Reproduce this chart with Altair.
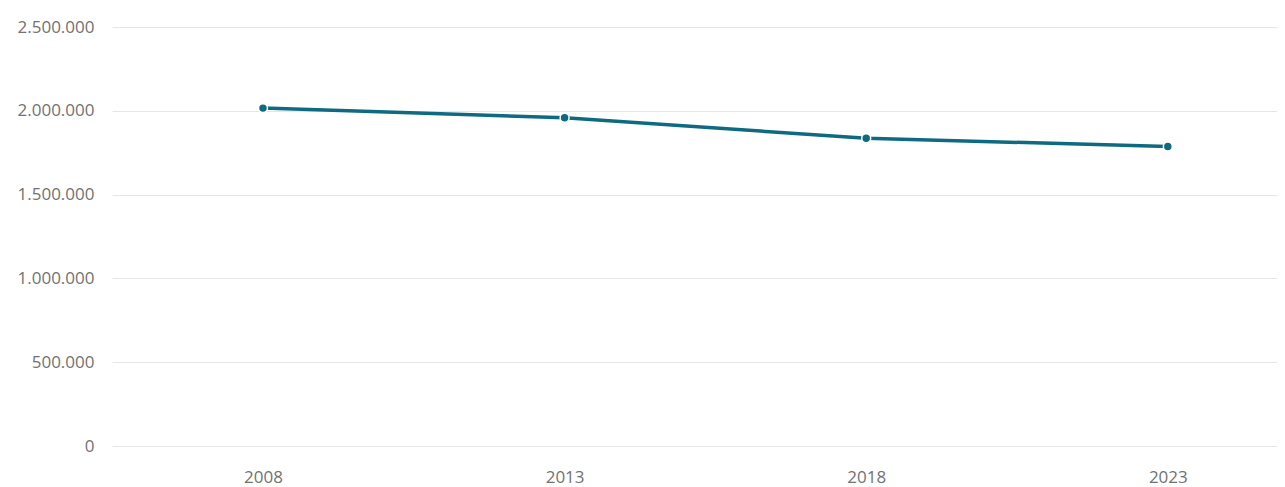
import altair as alt
import pandas as pd

years = [2008, 2013, 2018, 2023]
values = [2016000, 1958000, 1836000, 1787000]
y_ticks = [0, 500000, 1000000, 1500000, 2000000, 2500000]

df = pd.DataFrame({"year": years, "value": values})

line_color = "#0e6a80"

x_enc = alt.X(
    "year:Q",
    scale=alt.Scale(domain=[2005.497, 2024.81], nice=False, zero=False),
    axis=alt.Axis(values=years, format="d", title=None, grid=False, domain=False,
                  ticks=False, labelPadding=23, labelFontSize=17, labelColor="#727272",
                  labelFont="Open Sans"),
)
y_enc = alt.Y(
    "value:Q",
    scale=alt.Scale(domain=[0, 2500000], nice=False),
    axis=alt.Axis(values=y_ticks, format=",d", title=None, domain=False, ticks=False,
                  labelPadding=18, labelFontSize=17, labelColor="#727272",
                  labelFont="Open Sans", gridColor="#e6e6e6", gridWidth=1),
)

base = alt.Chart(df).encode(x=x_enc, y=y_enc)
line = base.mark_line(color=line_color, strokeWidth=3.5)
pts = base.mark_point(filled=True, color=line_color, size=80, opacity=1,
                      stroke="white", strokeWidth=1.5)

chart = (line + pts).properties(
    width=1165, height=419,
    autosize=alt.AutoSizeParams(type="none"),
    padding={"left": 104, "top": 19, "right": 0, "bottom": 41},
).configure_view(stroke=None)

chart.save("out.html", embed_options={
    "renderer": "svg", "actions": False,
    "formatLocale": {"decimal": ",", "thousands": ".", "grouping": [3], "currency": ["", " €"]},
})
